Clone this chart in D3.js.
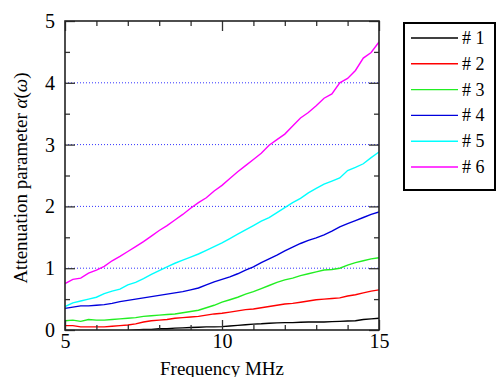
<!DOCTYPE html>
<html>
<head>
<meta charset="utf-8">
<script src="https://cdn.jsdelivr.net/npm/d3@7"></script>
<style>
  body { margin: 0; background: #fff; }
  svg text { font-family: "Liberation Serif", "Times New Roman", "DejaVu Serif", serif; }
</style>
</head>
<body>
<div id="chart"></div>
<script>
'use strict';

var freq = [5.00, 5.25, 5.50, 5.75, 6.00, 6.25, 6.50, 6.75, 7.00, 7.25, 7.50, 7.75, 8.00, 8.25, 8.50, 8.75,
            9.00, 9.25, 9.50, 9.75, 10.00, 10.25, 10.50, 10.75, 11.00, 11.25, 11.50, 11.75, 12.00, 12.25,
            12.50, 12.75, 13.00, 13.25, 13.50, 13.75, 14.00, 14.25, 14.50, 14.75, 15.00];

var s1 = [-0.03, -0.03, -0.03, -0.03, -0.03, -0.03, -0.02, -0.02, -0.01, 0.00, 0.01, 0.01, 0.02, 0.02, 0.03, 0.035,
          0.04, 0.045, 0.05, 0.05, 0.055, 0.065, 0.075, 0.085, 0.095, 0.10, 0.11, 0.115, 0.12, 0.12,
          0.125, 0.13, 0.13, 0.13, 0.135, 0.14, 0.145, 0.15, 0.17, 0.18, 0.19];
var s2 = [0.07, 0.07, 0.05, 0.05, 0.05, 0.05, 0.06, 0.07, 0.08, 0.10, 0.13, 0.15, 0.16, 0.17, 0.19, 0.20,
          0.21, 0.22, 0.24, 0.26, 0.27, 0.29, 0.31, 0.33, 0.34, 0.36, 0.38, 0.40, 0.42, 0.43,
          0.45, 0.47, 0.49, 0.50, 0.51, 0.52, 0.55, 0.57, 0.60, 0.63, 0.65];
var s3 = [0.15, 0.16, 0.14, 0.17, 0.16, 0.16, 0.17, 0.18, 0.19, 0.20, 0.22, 0.23, 0.24, 0.25, 0.26, 0.28,
          0.30, 0.32, 0.36, 0.40, 0.45, 0.49, 0.53, 0.58, 0.62, 0.67, 0.72, 0.77, 0.81, 0.84,
          0.88, 0.91, 0.94, 0.97, 0.98, 1.00, 1.05, 1.09, 1.12, 1.15, 1.17];
var s4 = [0.35, 0.37, 0.39, 0.39, 0.40, 0.41, 0.43, 0.46, 0.48, 0.50, 0.52, 0.54, 0.56, 0.58, 0.60, 0.62,
          0.65, 0.68, 0.73, 0.78, 0.82, 0.86, 0.91, 0.97, 1.02, 1.09, 1.15, 1.21, 1.28, 1.34,
          1.40, 1.45, 1.49, 1.54, 1.60, 1.67, 1.72, 1.77, 1.82, 1.87, 1.91];
var s5 = [0.38, 0.44, 0.47, 0.50, 0.53, 0.59, 0.63, 0.66, 0.73, 0.77, 0.83, 0.90, 0.96, 1.02, 1.08, 1.13,
          1.18, 1.23, 1.29, 1.35, 1.41, 1.48, 1.55, 1.62, 1.69, 1.76, 1.82, 1.90, 1.98, 2.06,
          2.13, 2.22, 2.29, 2.36, 2.41, 2.46, 2.58, 2.63, 2.69, 2.79, 2.88];
var s6 = [0.75, 0.82, 0.84, 0.92, 0.97, 1.03, 1.12, 1.19, 1.27, 1.35, 1.43, 1.52, 1.61, 1.69, 1.78, 1.87,
          1.97, 2.06, 2.14, 2.25, 2.34, 2.45, 2.56, 2.66, 2.76, 2.86, 2.99, 3.08, 3.17, 3.30,
          3.43, 3.52, 3.63, 3.75, 3.82, 4.00, 4.07, 4.20, 4.40, 4.49, 4.66];

var seriesNames = ['# 1', '# 2', '# 3', '# 4', '# 5', '# 6'];
var seriesColors = ['#000000', '#ff0000', '#22ee22', '#0000dd', '#00ffff', '#ff00ff'];
var seriesValues = [s1, s2, s3, s4, s5, s6];

var xMajor = [5, 10, 15];
var xMinor = [6, 7, 8, 9, 11, 12, 13, 14];
var yMajor = [0, 1, 2, 3, 4, 5];
var yMinor = [0.5, 1.5, 2.5, 3.5, 4.5];
var yGrid = [1, 2, 3, 4];

var SERIF = '"Liberation Serif", "Times New Roman", "DejaVu Serif", serif';
var W = 496, H = 377;
var m = { left: 65, right: 379, top: 21, bottom: 330 };

var svg = d3.select('#chart').append('svg')
  .attr('width', W)
  .attr('height', H)
  .style('display', 'block');

var x = d3.scaleLinear().domain([5, 15]).range([m.left, m.right]);
var y = d3.scaleLinear().domain([0, 5]).range([m.bottom, m.top]);

// grid
svg.append('g')
  .selectAll('line')
  .data(yGrid)
  .enter()
  .append('line')
    .attr('x1', m.left).attr('x2', m.right)
    .attr('y1', function(d) { return y(d); })
    .attr('y2', function(d) { return y(d); })
    .attr('stroke', '#3333ff')
    .attr('stroke-width', 1)
    .attr('stroke-dasharray', '1,2');

// curves
svg.append('clipPath').attr('id', 'clip')
  .append('rect')
    .attr('x', m.left).attr('y', m.top)
    .attr('width', m.right - m.left).attr('height', m.bottom - m.top);

var line = d3.line()
  .x(function(d) { return x(d[0]); })
  .y(function(d) { return y(d[1]); });

svg.append('g').attr('clip-path', 'url(#clip)')
  .selectAll('path')
  .data(seriesValues)
  .enter()
  .append('path')
    .attr('d', function(vals) { return line(freq.map(function(f, i) { return [f, vals[i]]; })); })
    .attr('fill', 'none')
    .attr('stroke', function(d, i) { return seriesColors[i]; })
    .attr('stroke-width', 1.4);

// axes (ticks pointing inward)
function styleAxis(g) {
  g.attr('font-family', SERIF).attr('font-size', 20);
  g.select('.domain').remove();
  g.selectAll('.tick line').attr('stroke', '#333').attr('stroke-width', 1.3);
  g.selectAll('.tick text').attr('fill', '#000');
}

svg.append('g').attr('transform', 'translate(' + m.left + ',0)')
  .call(d3.axisLeft(y).tickValues(yMajor).tickSize(-10).tickPadding(10).tickFormat(d3.format('d')))
  .call(styleAxis);
svg.append('g').attr('transform', 'translate(' + m.left + ',0)')
  .call(d3.axisLeft(y).tickValues(yMinor).tickSize(-5).tickFormat(''))
  .call(styleAxis);
svg.append('g').attr('transform', 'translate(' + m.right + ',0)')
  .call(d3.axisRight(y).tickValues(yMajor).tickSize(-10).tickFormat(''))
  .call(styleAxis);
svg.append('g').attr('transform', 'translate(' + m.right + ',0)')
  .call(d3.axisRight(y).tickValues(yMinor).tickSize(-5).tickFormat(''))
  .call(styleAxis);

svg.append('g').attr('transform', 'translate(0,' + m.bottom + ')')
  .call(d3.axisBottom(x).tickValues(xMajor).tickSize(-10).tickPadding(4).tickFormat(d3.format('d')))
  .call(styleAxis);
svg.append('g').attr('transform', 'translate(0,' + m.bottom + ')')
  .call(d3.axisBottom(x).tickValues(xMinor).tickSize(-5).tickFormat(''))
  .call(styleAxis);
svg.append('g').attr('transform', 'translate(0,' + m.top + ')')
  .call(d3.axisTop(x).tickValues(xMajor).tickSize(-10).tickFormat(''))
  .call(styleAxis);
svg.append('g').attr('transform', 'translate(0,' + m.top + ')')
  .call(d3.axisTop(x).tickValues(xMinor).tickSize(-5).tickFormat(''))
  .call(styleAxis);

// frame
svg.append('rect')
  .attr('x', m.left).attr('y', m.top)
  .attr('width', m.right - m.left).attr('height', m.bottom - m.top)
  .attr('fill', 'none')
  .attr('stroke', '#222')
  .attr('stroke-width', 1.6);

// axis titles
svg.append('text')
  .attr('x', (m.left + m.right) / 2)
  .attr('y', 375)
  .attr('text-anchor', 'middle')
  .attr('font-family', SERIF)
  .attr('font-size', 19)
  .text('Frequency MHz');

var yTitle = svg.append('text')
  .attr('transform', 'translate(27,' + 178 + ') rotate(-90)')
  .attr('text-anchor', 'middle')
  .attr('font-family', SERIF)
  .attr('font-size', 19);
yTitle.append('tspan').text('Attenuation parameter ');
yTitle.append('tspan').attr('font-style', 'italic').text('α');
yTitle.append('tspan').text('(');
yTitle.append('tspan').attr('font-style', 'italic').text('ω');
yTitle.append('tspan').text(')');

// legend
var legend = svg.append('g');
legend.append('rect')
  .attr('x', 404).attr('y', 23)
  .attr('width', 91).attr('height', 167)
  .attr('fill', '#fff')
  .attr('stroke', '#000')
  .attr('stroke-width', 2);

var legendY = d3.scalePoint().domain(seriesNames).range([38, 167]);

var items = legend.selectAll('g.item')
  .data(seriesNames)
  .enter()
  .append('g')
    .attr('class', 'item')
    .attr('transform', function(d) { return 'translate(0,' + legendY(d) + ')'; });
items.append('line')
  .attr('x1', 411).attr('x2', 458)
  .attr('stroke', function(d, i) { return seriesColors[i]; })
  .attr('stroke-width', 1.4);
items.append('text')
  .attr('x', 462)
  .attr('y', 6)
  .attr('font-family', SERIF)
  .attr('font-size', 18)
  .text(function(d) { return d; });
</script>
</body>
</html>
